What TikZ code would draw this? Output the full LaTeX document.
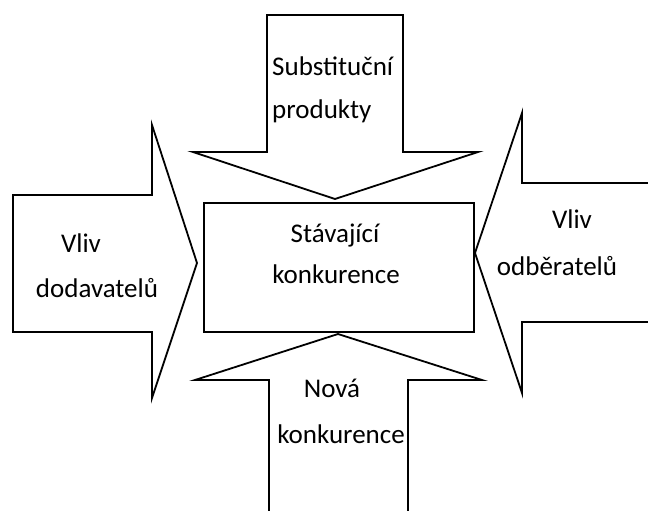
\documentclass[tikz,border=0pt]{standalone}
\usepackage{fontspec}
\setmainfont{Carlito}
\begin{document}
\begin{tikzpicture}[x=1pt,y=-1pt,
  shape outline/.style={draw=black,line width=1.8pt,line join=miter,fill=white},
  lbl/.style={inner sep=0pt,anchor=base,font=\fontsize{27}{31}\selectfont}]
\useasboundingbox[fill=white] (0,0) rectangle (648,511);
% top arrow
\draw[shape outline] (267,15) -- (403,15) -- (403,152) -- (478,152) -- (335,199) -- (193,152) -- (267,152) -- cycle;
% left arrow
\draw[shape outline] (13,195) -- (152,195) -- (152,125) -- (197,263) -- (152,398) -- (152,332) -- (13,332) -- cycle;
% right arrow
\fill[white] (522,183) rectangle (648,322);
\draw[shape outline] (652,183) -- (522,183) -- (522,113) -- (475,253) -- (522,393) -- (522,322) -- (652,322);
% bottom arrow
\draw[shape outline] (269,515) -- (269,380) -- (195,380) -- (338,334) -- (482,380) -- (408,380) -- (408,515);
% central box
\node[shape outline,minimum width=270pt,minimum height=129pt,inner sep=0pt,anchor=north west] (box) at (203,202) {};
% labels
\node[lbl,anchor=base west] (s1) at (272,76) {Substituční};
\node[lbl,anchor=base west] (s2) at (272,118) {produkty};
\node[lbl] (d1) at (81,252) {Vliv};
\node[lbl] (d2) at (97,297) {dodavatelů};
\node[lbl] (o1) at (572,228) {Vliv};
\node[lbl] (o2) at (557,275) {odběratelů};
\node[lbl] (c1) at (335,242) {Stávající};
\node[lbl] (c2) at (336,283) {konkurence};
\node[lbl] (n1) at (332,397) {Nová};
\node[lbl] (n2) at (341,443) {konkurence};
\end{tikzpicture}
\end{document}
